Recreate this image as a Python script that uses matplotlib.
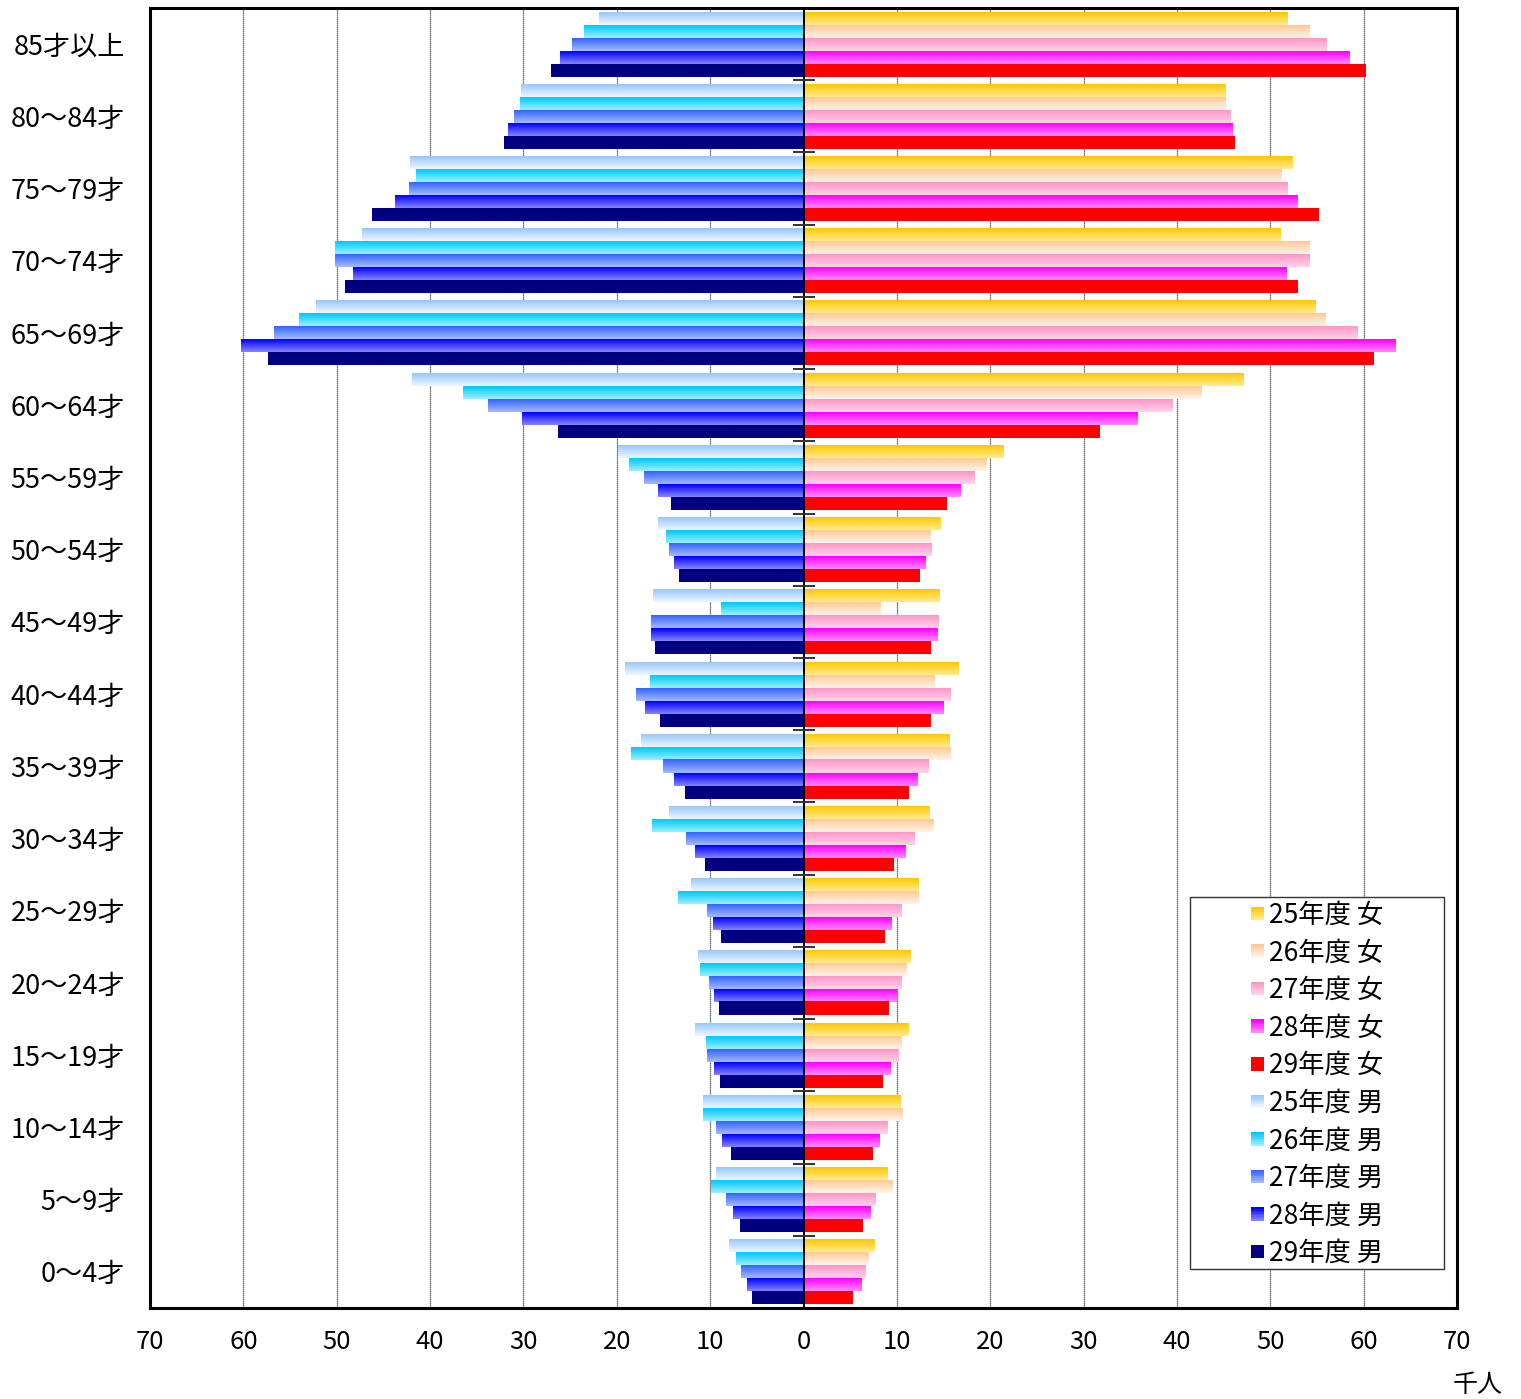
import numpy as np
import matplotlib
matplotlib.use("Agg")
import matplotlib.pyplot as plt
import matplotlib.colors as mcolors
from matplotlib.patches import Rectangle
from matplotlib.legend_handler import HandlerBase

plt.rcParams['font.family'] = ['Noto Sans CJK JP', 'DejaVu Sans']

# age groups, bottom to top
ages = ['0～4才', '5～9才', '10～14才', '15～19才', '20～24才', '25～29才',
        '30～34才', '35～39才', '40～44才', '45～49才', '50～54才', '55～59才',
        '60～64才', '65～69才', '70～74才', '75～79才', '80～84才', '85才以上']
years = ['25年度', '26年度', '27年度', '28年度', '29年度']

# 千人
male_25 = [8.0, 9.4, 10.8, 11.6, 11.3, 12.1, 14.4, 17.4, 19.1, 16.1, 15.6, 19.9, 41.9, 52.2, 47.3, 42.1, 30.3, 21.9]
male_26 = [7.2, 9.9, 10.8, 10.4, 11.1, 13.4, 16.2, 18.5, 16.4, 8.8, 14.7, 18.7, 36.5, 54.0, 50.2, 41.5, 30.4, 23.5]
male_27 = [6.7, 8.3, 9.4, 10.3, 10.1, 10.3, 12.6, 15.0, 17.9, 16.3, 14.4, 17.1, 33.8, 56.7, 50.2, 42.3, 31.0, 24.8]
male_28 = [6.1, 7.5, 8.7, 9.6, 9.6, 9.7, 11.6, 13.9, 17.0, 16.3, 13.9, 15.6, 30.1, 60.2, 48.3, 43.8, 31.6, 26.1]
male_29 = [5.5, 6.8, 7.8, 8.9, 9.0, 8.8, 10.5, 12.7, 15.4, 15.9, 13.3, 14.2, 26.3, 57.4, 49.1, 46.2, 32.1, 27.0]

female_25 = [7.6, 8.9, 10.3, 11.2, 11.4, 12.3, 13.4, 15.6, 16.6, 14.5, 14.6, 21.4, 47.1, 54.8, 51.0, 52.3, 45.2, 51.8]
female_26 = [6.9, 9.5, 10.5, 10.4, 11.0, 12.3, 13.9, 15.7, 14.0, 8.2, 13.6, 19.5, 42.6, 55.9, 54.1, 51.1, 45.2, 54.2]
female_27 = [6.6, 7.7, 8.9, 10.1, 10.4, 10.4, 11.8, 13.3, 15.7, 14.4, 13.7, 18.3, 39.5, 59.3, 54.1, 51.8, 45.7, 56.0]
female_28 = [6.2, 7.1, 8.1, 9.3, 9.9, 9.4, 10.9, 12.2, 14.9, 14.3, 13.0, 16.8, 35.7, 63.4, 51.7, 52.9, 45.9, 58.4]
female_29 = [5.2, 6.3, 7.3, 8.4, 9.0, 8.6, 9.6, 11.2, 13.5, 13.6, 12.4, 15.3, 31.7, 61.0, 52.9, 55.1, 46.1, 60.1]

male = [male_25, male_26, male_27, male_28, male_29]
female = [female_25, female_26, female_27, female_28, female_29]

# gradient colours (top, bottom)
female_cols = [('#FFC800', '#FFEA90'), ('#FFC896', '#FFF4EA'), ('#FF96C8', '#FFD2EA'),
               ('#FF00FF', '#FF88FF'), ('#FF0000', '#FF0000')]
male_cols = [('#96C8FF', '#EEF6FF'), ('#00C8FF', '#99EEFF'), ('#3264FF', '#A5B9FF'),
             ('#0000FF', '#8484FF'), ('#000080', '#000080')]


def grad(c1, c2, n=32):
    a = np.array(mcolors.to_rgb(c1))
    b = np.array(mcolors.to_rgb(c2))
    t = np.linspace(0, 1, n)[:, None]
    return (a * (1 - t) + b * t)[:, None, :]


class GradKey:
    def __init__(self, top, bot):
        self.top, self.bot = top, bot


class GradHandler(HandlerBase):
    def create_artists(self, legend, h, xd, yd, width, height, fontsize, trans):
        s = height * 0.68
        x0 = -xd + width - s
        y0 = -yd + (height - s) / 2
        n = 8
        cs = grad(h.top, h.bot, n)[:, 0, :]
        arts = []
        for k in range(n):
            arts.append(Rectangle((x0, y0 + s - (k + 1) * s / n), s, s / n + 0.3,
                                  facecolor=cs[k], edgecolor='none', transform=trans))
        return arts


fig = plt.figure(figsize=(15.21, 13.99), dpi=100)
ax = fig.add_axes([150 / 1521, 1 - 1308 / 1399, 1307 / 1521, 1300 / 1399])

y = np.arange(len(ages))
bh = 0.18
for j in range(5):
    off = (2 - j) * bh
    for vals, cols, sign in ((male[j], male_cols[j], -1), (female[j], female_cols[j], 1)):
        bars = ax.barh(y + off, sign * np.array(vals), height=bh, color='none', edgecolor='none')
        img = grad(*cols)
        for r in bars:
            x0, x1 = r.get_x(), r.get_x() + r.get_width()
            ax.imshow(img, extent=[min(x0, x1), max(x0, x1), r.get_y(), r.get_y() + bh],
                      aspect='auto', origin='upper', interpolation='bilinear', zorder=2)

ax.set_xlim(-70, 70)
ax.set_ylim(-0.5, len(ages) - 0.5)
ax.set_aspect('auto')

xt = np.arange(-70, 71, 10)
ax.set_xticks(xt)
ax.set_xticklabels([str(abs(v)) for v in xt], fontsize=18.5)
ax.set_yticks(y)
ax.set_yticklabels(ages, fontsize=19.5)
ax.tick_params(axis='both', length=0)
ax.tick_params(axis='x', pad=15)
ax.tick_params(axis='y', pad=18)

for v in xt[1:-1]:
    if v != 0:
        ax.axvline(v, color='#444444', lw=0.9, ls=(0, (1, 0.6)), zorder=1)
ax.axvline(0, color='black', lw=1.4, zorder=3)
ax.plot(np.zeros(len(ages) - 1), y[:-1] + 0.5, ls='none', marker='_', ms=16,
        mew=1.4, color='#333333', zorder=3)

for sp in ax.spines.values():
    sp.set_linewidth(2.2)

handles = [GradKey(*c) for c in female_cols] + [GradKey(*c) for c in male_cols]
labels = [f'{yr} 女' for yr in years] + [f'{yr} 男' for yr in years]
leg = ax.legend(handles, labels, handler_map={GradKey: GradHandler()},
                loc='upper left', bbox_to_anchor=((1244 - 150) / 1307, (1308 - 902) / 1300),
                frameon=False, fontsize=19, handlelength=0.75, handleheight=0.75,
                handletextpad=0.2, labelspacing=0.40, borderpad=0, borderaxespad=0)
ax.add_patch(Rectangle(((1190 - 150) / 1307, (1308 - 1269) / 1300), 254 / 1307, 372 / 1300,
                       transform=ax.transAxes, facecolor='white', edgecolor='#333333',
                       lw=1.0, zorder=4))
leg.set_zorder(5)

fig.text(1478 / 1521, 1 - 1385 / 1399, '千人', fontsize=18, ha='center', va='center')

fig.savefig('out.png', dpi=100)
